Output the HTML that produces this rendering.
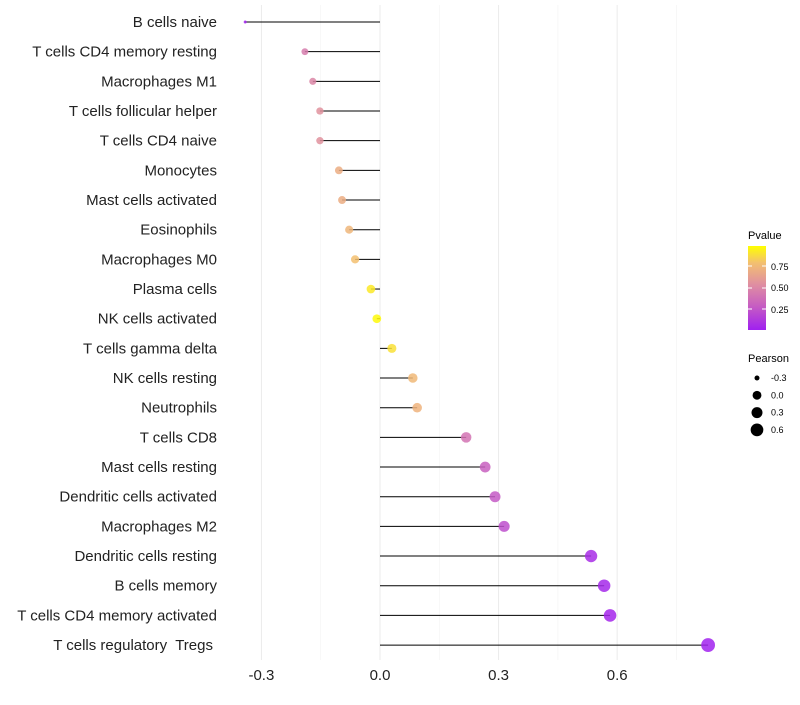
<!DOCTYPE html>
<html><head><meta charset="utf-8"><style>
body{margin:0;background:#fff}
svg text{font-family:"Liberation Sans",sans-serif;white-space:pre}
</style></head><body>
<svg id="chart" width="800" height="700">
<defs><linearGradient id="pg" x1="0" y1="1" x2="0" y2="0">
<stop offset="0" stop-color="#a020f0"/><stop offset="0.3" stop-color="#c860c0"/><stop offset="0.55" stop-color="#e090a0"/><stop offset="0.8" stop-color="#f3c070"/><stop offset="1" stop-color="#ffff00"/>
</linearGradient></defs>
<g id="grid"></g><g id="marks"></g><g id="labels"></g><g id="xaxis"></g>
<g>
<text x="748" y="239" font-size="11">Pvalue</text>
<rect x="748" y="246" width="18" height="84" fill="url(#pg)"/>
<line x1="748" x2="752" y1="266" y2="266" stroke="#fff"/><line x1="762" x2="766" y1="266" y2="266" stroke="#fff"/>
<line x1="748" x2="752" y1="288" y2="288" stroke="#fff"/><line x1="762" x2="766" y1="288" y2="288" stroke="#fff"/>
<line x1="748" x2="752" y1="309" y2="309" stroke="#fff"/><line x1="762" x2="766" y1="309" y2="309" stroke="#fff"/>
<text x="771" y="270" font-size="9">0.75</text><text x="771" y="291" font-size="9">0.50</text><text x="771" y="313" font-size="9">0.25</text>
</g>
<g id="sizeleg">
<text x="748" y="362" font-size="11">Pearson</text>
</g>
</svg>
<script>
const cells=["B cells naive","T cells CD4 memory resting","Macrophages M1","T cells follicular helper","T cells CD4 naive","Monocytes","Mast cells activated","Eosinophils","Macrophages M0","Plasma cells","NK cells activated","T cells gamma delta","NK cells resting","Neutrophils","T cells CD8","Mast cells resting","Dendritic cells activated","Macrophages M2","Dendritic cells resting","B cells memory","T cells CD4 memory activated","T cells regulatory  Tregs"];
const pearson=[-0.341,-0.19,-0.17,-0.152,-0.152,-0.104,-0.096,-0.078,-0.063,-0.023,-0.008,0.03,0.083,0.094,0.218,0.266,0.291,0.314,0.534,0.567,0.582,0.83];
const pvalue=[0.01,0.45,0.5,0.56,0.56,0.7,0.7,0.75,0.8,0.93,0.98,0.9,0.76,0.73,0.4,0.3,0.27,0.22,0.06,0.04,0.03,0.01];
const xTicks=[-0.3,0.0,0.3,0.6];
const xMinor=[-0.15,0.15,0.45,0.75];
const sizeLeg=[-0.3,0.0,0.3,0.6];
const NS="http://www.w3.org/2000/svg";
const X=v=>380+v*395.3;
const Y=i=>22+i*29.67;
const R=v=>1.5+Math.sqrt(Math.max(0,v+0.34))*5;
const stops=[[0,[160,32,240]],[0.3,[200,96,192]],[0.55,[224,144,160]],[0.8,[243,192,112]],[1,[255,255,0]]];
function col(p){for(let k=1;k<stops.length;k++){if(p<=stops[k][0]){const a=stops[k-1],b=stops[k],t=(p-a[0])/(b[0]-a[0]);return "rgb("+a[1].map((c,j)=>Math.round(c+(b[1][j]-c)*t)).join(",")+")";}}return "rgb(255,255,0)";}
function mk(tag,at,parent){const e=document.createElementNS(NS,tag);for(const k in at)e.setAttribute(k,at[k]);document.getElementById(parent).appendChild(e);return e;}
xMinor.forEach(v=>{const l=mk("line",{x1:X(v),x2:X(v),y1:5,y2:660,stroke:"#f2f2f2","stroke-width":0.6},"grid");

});
xTicks.forEach(v=>{const l=mk("line",{x1:X(v),x2:X(v),y1:5,y2:660,stroke:"#ebebeb","stroke-width":1},"grid");


const t=mk("text",{x:X(v),y:680,"font-size":15,"text-anchor":"middle",fill:"#222"},"xaxis");t.textContent=v.toFixed(1);

});
cells.forEach((c,i)=>{const v=pearson[i],y=Y(i);
const s=mk("line",{x1:X(0),x2:X(v),y1:y,y2:y,stroke:"#000","stroke-width":1},"marks");


const p=mk("circle",{cx:X(v),cy:y,r:R(v),fill:col(pvalue[i]),"fill-opacity":0.85},"marks");


const t=mk("text",{x:i===cells.length-1?213:217,y:y+5,"font-size":15,"text-anchor":"end",fill:"#222"},"labels");t.textContent=c;

});
sizeLeg.forEach((v,i)=>{const y=378+i*17.3;
const c=mk("circle",{cx:757,cy:y,r:R(v),fill:"#000"},"sizeleg");


const t=mk("text",{x:771,y:y+3,"font-size":9},"sizeleg");t.textContent=v.toFixed(1);

});
</script>
</body></html>
